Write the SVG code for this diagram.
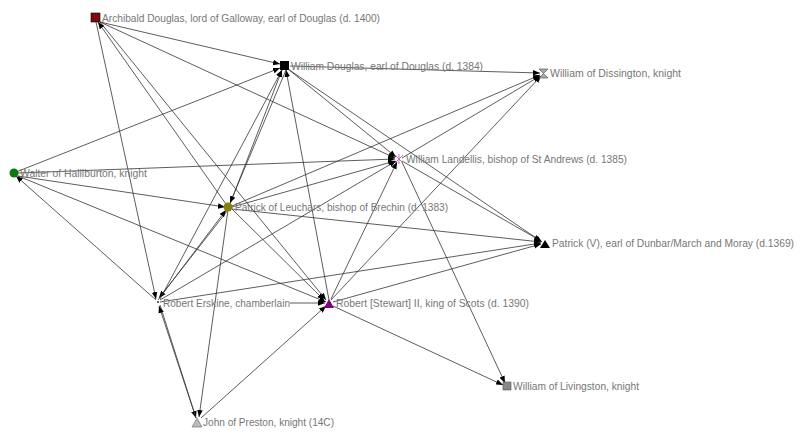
<svg xmlns="http://www.w3.org/2000/svg" width="800" height="437" viewBox="0 0 800 437">
<style>
text{font-family:"Liberation Sans",Arial,sans-serif;font-size:11.5px;fill:#777}
#edges line{stroke:#333;stroke-width:0.8;marker-end:url(#ah)}
</style>
<defs><marker id="ah" viewBox="0 0 10 10" refX="10" refY="5" markerWidth="7" markerHeight="7" orient="auto" markerUnits="userSpaceOnUse"><path d="M0,1L10,5L0,9z" fill="#000"/></marker></defs>
<rect width="800" height="437" fill="#fff"/>
<g id="edges">
<line x1="100" y1="22" x2="280" y2="64"/>
<line x1="100" y1="22" x2="395" y2="158"/>
<line x1="100" y1="22" x2="326" y2="300"/>
<line x1="228" y1="207" x2="98" y2="22"/>
<line x1="96" y1="22" x2="156" y2="299"/>
<line x1="290" y1="66" x2="540" y2="73"/>
<line x1="16" y1="172" x2="280" y2="68"/>
<line x1="18" y1="173" x2="395" y2="159"/>
<line x1="18" y1="176" x2="225" y2="207"/>
<line x1="18" y1="176" x2="326" y2="302"/>
<line x1="156" y1="300" x2="16" y2="176"/>
<line x1="288" y1="69" x2="396" y2="157"/>
<line x1="288" y1="69" x2="542" y2="242"/>
<line x1="230" y1="204" x2="282" y2="70"/>
<line x1="160" y1="299" x2="282" y2="70"/>
<line x1="329" y1="300" x2="286" y2="70"/>
<line x1="286" y1="70" x2="230" y2="203"/>
<line x1="232" y1="206" x2="540" y2="75"/>
<line x1="402" y1="158" x2="540" y2="76"/>
<line x1="331" y1="300" x2="541" y2="76"/>
<line x1="232" y1="207" x2="395" y2="161"/>
<line x1="232" y1="209" x2="541" y2="242"/>
<line x1="160" y1="302" x2="541" y2="243"/>
<line x1="333" y1="302" x2="541" y2="244"/>
<line x1="402" y1="161" x2="541" y2="241"/>
<line x1="331" y1="299" x2="397" y2="162"/>
<line x1="160" y1="300" x2="396" y2="161"/>
<line x1="402" y1="162" x2="505" y2="383"/>
<line x1="333" y1="306" x2="503" y2="385"/>
<line x1="290" y1="303" x2="325" y2="303"/>
<line x1="232" y1="209" x2="324" y2="300"/>
<line x1="160" y1="305" x2="196" y2="418"/>
<line x1="196" y1="418" x2="159" y2="306"/>
<line x1="228" y1="210" x2="199" y2="417"/>
<line x1="201" y1="418" x2="326" y2="306"/>
<line x1="228" y1="210" x2="159" y2="298"/>
<line x1="158" y1="300" x2="226" y2="210"/>
</g>
<g id="n1"><rect x="91" y="13" width="9" height="9" fill="#7a0c10" stroke="#000" stroke-width="0.6"/><text x="102" y="22" textLength="278" lengthAdjust="spacingAndGlyphs">Archibald Douglas, lord of Galloway, earl of Douglas (d. 1400)</text></g>
<g id="n2"><rect x="280" y="61" width="9" height="9" fill="#000"/><text x="291" y="70" textLength="192" lengthAdjust="spacingAndGlyphs">William Douglas, earl of Douglas (d. 1384)</text></g>
<g id="n3"><path d="M539,69h9l-9,9h9z" fill="#aaa" stroke="#444" stroke-width="0.6"/><text x="550" y="77" textLength="131" lengthAdjust="spacingAndGlyphs">William of Dissington, knight</text></g>
<g id="n4"><circle cx="14" cy="173" r="4.5" fill="#0a7a10"/><text x="20" y="177" textLength="127" lengthAdjust="spacingAndGlyphs">Walter of Halliburton, knight</text></g>
<g id="n5"><path d="M395,155l8,8M403,155l-8,8M399,154v10" stroke="#c070c0" stroke-width="1"/><text x="406" y="163" textLength="221" lengthAdjust="spacingAndGlyphs">William Landellis, bishop of St Andrews (d. 1385)</text></g>
<g id="n6"><circle cx="228" cy="207" r="4.5" fill="#888010"/><text x="235" y="211" textLength="213" lengthAdjust="spacingAndGlyphs">Patrick of Leuchars, bishop of Brechin (d. 1383)</text></g>
<g id="n7"><path d="M540,248l5,-8l5,8z" fill="#000"/><text x="552" y="247" textLength="242" lengthAdjust="spacingAndGlyphs">Patrick (V), earl of Dunbar/March and Moray (d.1369)</text></g>
<g id="n8"><rect x="157" y="301" width="2" height="2" fill="#666"/><text x="163" y="307" textLength="127" lengthAdjust="spacingAndGlyphs">Robert Erskine, chamberlain</text></g>
<g id="n9"><path d="M324,308l5,-9l5,9z" fill="#800080"/><text x="336" y="307" textLength="193" lengthAdjust="spacingAndGlyphs">Robert [Stewart] II, king of Scots (d. 1390)</text></g>
<g id="n10"><rect x="503" y="382" width="8" height="8" fill="#888" stroke="#555" stroke-width="0.6"/><text x="513" y="390" textLength="126" lengthAdjust="spacingAndGlyphs">William of Livingston, knight</text></g>
<g id="n11"><path d="M192,427l5,-9l5,9z" fill="#bbb" stroke="#666" stroke-width="0.6"/><text x="203" y="426" textLength="131" lengthAdjust="spacingAndGlyphs">John of Preston, knight (14C)</text></g>
</svg>
